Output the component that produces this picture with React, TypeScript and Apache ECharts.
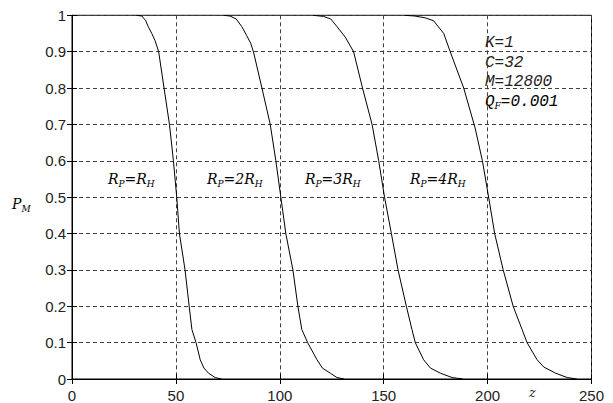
import React, { useEffect, useRef } from "react";
import * as echarts from "echarts";

// Curves: [z, P_M] pairs
const curveRp1: number[][] = [
  [31, 1], [33.6, 0.998], [35.5, 0.985], [36.6, 0.97], [38.4, 0.95], [40, 0.93], [41.7, 0.9],
  [44.3, 0.8], [46.9, 0.7], [48.8, 0.6], [50.4, 0.5], [51.7, 0.4], [54.4, 0.3], [56.4, 0.2],
  [57.7, 0.136], [59.7, 0.1], [61.7, 0.053], [63.5, 0.03], [65.7, 0.016], [68.9, 0.004], [72, 0],
];
const curveRp2: number[][] = [
  [73, 1], [76, 0.998], [79, 0.99], [81.7, 0.969], [84, 0.945], [86, 0.923], [87.3, 0.9],
  [91.4, 0.8], [95.4, 0.7], [98.1, 0.6], [100.5, 0.5], [102.9, 0.4], [106.3, 0.3], [108.7, 0.2],
  [110.6, 0.136], [113.4, 0.1], [117.9, 0.053], [120.5, 0.03], [124.3, 0.016], [127.5, 0.004], [131, 0],
];
const curveRp3: number[][] = [
  [116, 1], [121, 0.997], [124.5, 0.99], [127.5, 0.969], [131.5, 0.94], [135.5, 0.9],
  [139.8, 0.8], [144.4, 0.7], [147.6, 0.6], [150.4, 0.5], [153.7, 0.4], [156.9, 0.3], [160.9, 0.2],
  [163.6, 0.136], [165.2, 0.1], [169.2, 0.053], [172.5, 0.03], [177.3, 0.016], [182.9, 0.004], [188, 0],
];
const curveRp4: number[][] = [
  [160, 1], [165, 0.998], [170, 0.993], [174, 0.985], [178.9, 0.95], [182, 0.9],
  [188.5, 0.8], [194, 0.69], [197.5, 0.6], [200.5, 0.5], [203.4, 0.4], [207.5, 0.3], [212.3, 0.2],
  [216.6, 0.136], [219, 0.1], [223.8, 0.053], [227, 0.033], [232.7, 0.016], [238.3, 0.004], [243, 0],
];

const curves = [curveRp1, curveRp2, curveRp3, curveRp4];
const curveLabels = ["", "2", "3", "4"];
const paramLines = ["K=1", "C=32", "M=12800"];

const X_MIN = 0, X_MAX = 250, X_INT = 50;
const Y_MIN = 0, Y_MAX = 1, Y_INT = 0.1;

export default function App() {
  const ref = useRef<HTMLDivElement>(null);
  useEffect(() => {
    if (!ref.current) return;
    const chart = echarts.init(ref.current, null, { renderer: "svg" });
    const serif = "'DejaVu Serif', serif";
    const mono = "'Liberation Mono', monospace";
    const tickFont = { fontFamily: "'Liberation Sans', Arial, sans-serif", fontSize: 15, color: "#222" };
    const richR = {
      r: { fontFamily: serif, fontStyle: "italic", fontSize: 14, color: "#222" },
      s: { fontFamily: serif, fontStyle: "italic", fontSize: 9, color: "#222", padding: [9, 0, 0, 0] },
    };
    const labelX = [108, 207, 305, 410];
    const graphics: any[] = curveLabels.map((k, i) => ({
      type: "text",
      left: labelX[i],
      top: 172,
      style: {
        text: `{r|R}{s|P}{r|=${k}R}{s|H}`,
        rich: richR,
      },
    }));
    paramLines.forEach((t, i) => {
      graphics.push({
        type: "text",
        left: 485,
        top: 35 + i * 19.5,
        style: { text: t, fontFamily: mono, fontStyle: "italic", fontSize: 16, fill: "#222" },
      });
    });
    graphics.push({
      type: "text",
      left: 485,
      top: 35 + 3 * 19.5,
      style: {
        text: "{q|Q}{s|F}{q|=0.001}",
        rich: {
          q: { fontFamily: mono, fontStyle: "italic", fontSize: 16, color: "#222" },
          s: { fontFamily: serif, fontStyle: "italic", fontSize: 9, color: "#222", padding: [9, 0, 0, 0] },
        },
      },
    });
    graphics.push({
      type: "text",
      left: 12,
      top: 197,
      style: { text: "{r|P}{s|M}", rich: richR },
    });
    graphics.push({
      type: "text",
      left: 529,
      top: 386,
      style: { text: "z", fontFamily: serif, fontStyle: "italic", fontSize: 13, fill: "#222" },
    });

    const gridLine = { show: true, lineStyle: { color: "#404040", type: [4, 3] as any, width: 1 } };
    chart.setOption({
      animation: false,
      backgroundColor: "#fff",
      grid: { left: 72, right: 21.5, top: 15.3, bottom: 23.7, show: true, borderColor: "#000", borderWidth: 1, containLabel: false },
      xAxis: [
        {
          type: "value", min: X_MIN, max: X_MAX, interval: X_INT,
          axisLine: { show: true, lineStyle: { color: "#000" } },
          axisTick: { show: true, inside: true, length: 5, lineStyle: { color: "#000" } },
          axisLabel: { ...tickFont, margin: 9 },
          splitLine: gridLine,
        },
        {
          type: "value", position: "top", min: X_MIN, max: X_MAX, interval: X_INT,
          axisLine: { show: true, lineStyle: { color: "#000" } },
          axisTick: { show: true, inside: true, length: 5, lineStyle: { color: "#000" } },
          axisLabel: { show: false }, splitLine: { show: false },
        },
      ],
      yAxis: [
        {
          type: "value", min: Y_MIN, max: Y_MAX, interval: Y_INT,
          axisLine: { show: true, lineStyle: { color: "#000" } },
          axisTick: { show: true, inside: true, length: 5, lineStyle: { color: "#000" } },
          axisLabel: { ...tickFont, margin: 6, formatter: (v: number) => String(Math.round(v * 10) / 10) },
          splitLine: gridLine,
        },
        {
          type: "value", position: "right", min: Y_MIN, max: Y_MAX, interval: Y_INT,
          axisLine: { show: true, lineStyle: { color: "#000" } },
          axisTick: { show: true, inside: true, length: 5, lineStyle: { color: "#000" } },
          axisLabel: { show: false }, splitLine: { show: false },
        },
      ],
      series: curves.map((c) => ({
        type: "line",
        data: c,
        showSymbol: false,
        smooth: false,
        lineStyle: { color: "#000", width: 1 },
        xAxisIndex: 0,
        yAxisIndex: 0,
      })),
      graphic: graphics,
    });
    return () => chart.dispose();
  }, []);
  return (
    <div
      ref={ref}
      style={{ position: "fixed", left: 0, top: 0, width: 613, height: 403, background: "#fff" }}
    />
  );
}
